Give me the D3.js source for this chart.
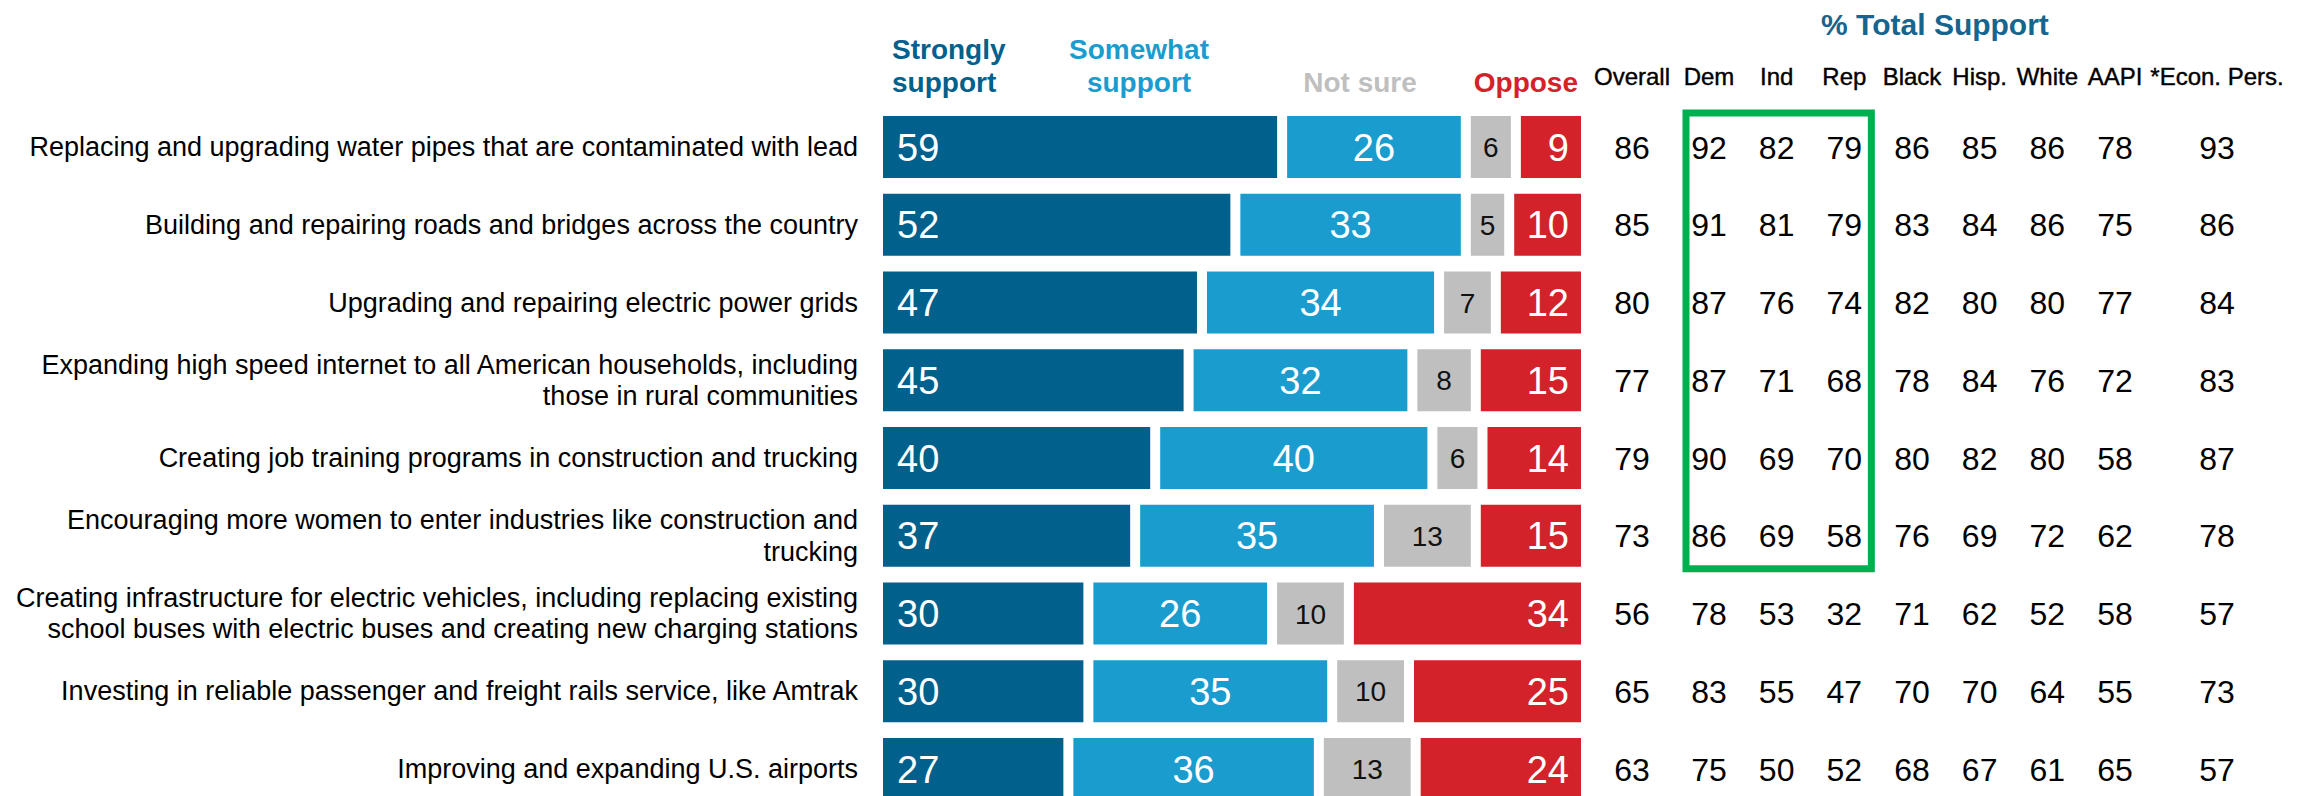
<!DOCTYPE html>
<html>
<head>
<meta charset="utf-8">
<script src="https://cdn.jsdelivr.net/npm/d3@7"></script>
<style>
  body { margin: 0; background: #fff; }
  svg { display: block; font-family: "Liberation Sans Narrow", "Arial Narrow", "Liberation Sans", sans-serif; }
</style>
</head>
<body>
<div id="chart"></div>
<script>
// Infrastructure support chart

// Data
const items = [
  'Replacing and upgrading water pipes that are contaminated with lead',
  'Building and repairing roads and bridges across the country',
  'Upgrading and repairing electric power grids',
  'Expanding high speed internet to all American households, including\nthose in rural communities',
  'Creating job training programs in construction and trucking',
  'Encouraging more women to enter industries like construction and\ntrucking',
  'Creating infrastructure for electric vehicles, including replacing existing\nschool buses with electric buses and creating new charging stations',
  'Investing in reliable passenger and freight rails service, like Amtrak',
  'Improving and expanding U.S. airports'
]
const strongly = [59, 52, 47, 45, 40, 37, 30, 30, 27]
const somewhat = [26, 33, 34, 32, 40, 35, 26, 35, 36]
const notSure  = [6, 5, 7, 8, 6, 13, 10, 10, 13]
const oppose   = [9, 10, 12, 15, 14, 15, 34, 25, 24]

const groups  = ['Overall', 'Dem', 'Ind', 'Rep', 'Black', 'Hisp.', 'White', 'AAPI', '*Econ. Pers.']
const overall = [86, 85, 80, 77, 79, 73, 56, 65, 63]
const dem     = [92, 91, 87, 87, 90, 86, 78, 83, 75]
const ind     = [82, 81, 76, 71, 69, 69, 53, 55, 50]
const rep     = [79, 79, 74, 68, 70, 58, 32, 47, 52]
const black   = [86, 83, 82, 78, 80, 76, 71, 70, 68]
const hisp    = [85, 84, 80, 84, 82, 69, 62, 70, 67]
const white   = [86, 86, 80, 76, 80, 72, 52, 64, 61]
const aapi    = [78, 75, 77, 72, 58, 62, 58, 55, 65]
const econ    = [93, 86, 84, 83, 87, 78, 57, 73, 57]
const tableCols = [overall, dem, ind, rep, black, hisp, white, aapi, econ]
const boxedRows = 6

const series = [
  { key: 'Strongly support', values: strongly, color: '#02608c', text: '#fff', size: 38, align: 'start' },
  { key: 'Somewhat support', values: somewhat, color: '#1a9ccf', text: '#fff', size: 38, align: 'middle' },
  { key: 'Not sure', values: notSure, color: '#bfbfbf', text: '#111', size: 28, align: 'middle' },
  { key: 'Oppose', values: oppose, color: '#d4222a', text: '#fff', size: 38, align: 'end' }
]

const width = 2310
const height = 796
const barLeft = 883
const gap = 10

const svg = d3.select('#chart')
  .append('svg')
  .attr('width', width)
  .attr('height', height)

// Scales
const y = d3.scaleBand()
  .domain(items)
  .range([116, 116 + 8 * 77.75 + 62])
  .paddingInner(15.75 / 77.75)

const x = d3.scaleLinear()
  .domain([0, 100])
  .range([0, 698 - 3 * gap])

const colX = d3.scalePoint()
  .domain(groups.slice(1, 8))
  .range([1709, 2115])
const colPos = (g) => g === groups[0] ? colX(groups[1]) - 77
  : g === groups[8] ? colX(groups[7]) + 102 : colX(g)

// Row labels
const labels = svg.append('g')
  .attr('font-size', 27)
  .attr('fill', '#000')
  .attr('text-anchor', 'end')

items.forEach((item) => {
  const lines = item.split('\n')
  const cy = y(item) + y.bandwidth() / 2
  const t = labels.append('text')
  lines.forEach((line, i) => {
    t.append('tspan')
      .attr('x', 858)
      .attr('y', cy + 9 + (i - (lines.length - 1) / 2) * 31.5)
      .text(line)
  })
})

// Stacked bars
const rows = items.map((item, i) => {
  let start = 0
  return series.map((s, j) => {
    const seg = { item, s, value: s.values[i], x0: barLeft + x(start) + j * gap }
    seg.x1 = seg.x0 + x(seg.value)
    start += seg.value
    return seg
  })
}).flat()

svg.append('g')
  .selectAll('rect')
  .data(rows)
  .enter().append('rect')
  .attr('x', (d) => d.x0)
  .attr('y', (d) => y(d.item))
  .attr('width', (d) => d.x1 - d.x0)
  .attr('height', y.bandwidth())
  .attr('fill', (d) => d.s.color)

svg.append('g')
  .selectAll('text')
  .data(rows)
  .enter().append('text')
  .attr('x', (d) => d.s.align === 'start' ? d.x0 + 14 : d.s.align === 'end' ? d.x1 - 12 : (d.x0 + d.x1) / 2)
  .attr('y', (d) => y(d.item) + y.bandwidth() / 2)
  .attr('dy', '0.36em')
  .attr('text-anchor', (d) => d.s.align)
  .attr('font-size', (d) => d.s.size)
  .attr('fill', (d) => d.s.text)
  .text((d) => d.value)

// Legend headers
const head = svg.append('g')
  .attr('font-size', 28)
  .attr('font-weight', 'bold')
const headPos = [
  { x: barLeft + 9, anchor: 'start' },
  { x: 1139, anchor: 'middle' },
  { x: 1360, anchor: 'middle' },
  { x: 1578, anchor: 'end' }
]
series.forEach((s, i) => {
  const words = s.key.split(' ')
  const lines = s.key === 'Not sure' ? [s.key] : words
  const t = head.append('text')
    .attr('fill', s.color)
    .attr('text-anchor', headPos[i].anchor)
  lines.forEach((line, k) => {
    t.append('tspan')
      .attr('x', headPos[i].x)
      .attr('y', 92 - (lines.length - 1 - k) * 33)
      .text(line)
  })
})

// Table
svg.append('text')
  .text('% Total Support')
  .attr('x', 1935)
  .attr('y', 35)
  .attr('text-anchor', 'middle')
  .attr('font-size', 30)
  .attr('font-weight', 'bold')
  .attr('fill', '#16658f')

svg.append('g')
  .selectAll('text')
  .data(groups)
  .enter().append('text')
  .attr('x', (d) => colPos(d))
  .attr('y', 85)
  .attr('text-anchor', 'middle')
  .attr('font-size', 24)
  .attr('fill', '#000')
  .attr('stroke', '#000')
  .attr('stroke-width', 0.4)
  .text((d) => d)

const cells = groups.map((g, c) => tableCols[c].map((v, r) => ({ g, v, item: items[r] }))).flat()

svg.append('g')
  .selectAll('text')
  .data(cells)
  .enter().append('text')
  .attr('x', (d) => colPos(d.g))
  .attr('y', (d) => y(d.item) + y.bandwidth() / 2)
  .attr('dy', '0.36em')
  .attr('text-anchor', 'middle')
  .attr('font-size', 32)
  .attr('fill', '#000')
  .text((d) => d.v)

// Green box around party columns
svg.append('rect')
  .attr('x', colPos('Dem') - 23)
  .attr('y', y(items[0]) - 3)
  .attr('width', colPos('Rep') + 27 - (colPos('Dem') - 23))
  .attr('height', y(items[boxedRows - 1]) + y.bandwidth() + 2 - (y(items[0]) - 3))
  .attr('fill', 'none')
  .attr('stroke', '#00b050')
  .attr('stroke-width', 7)
</script>
</body>
</html>
